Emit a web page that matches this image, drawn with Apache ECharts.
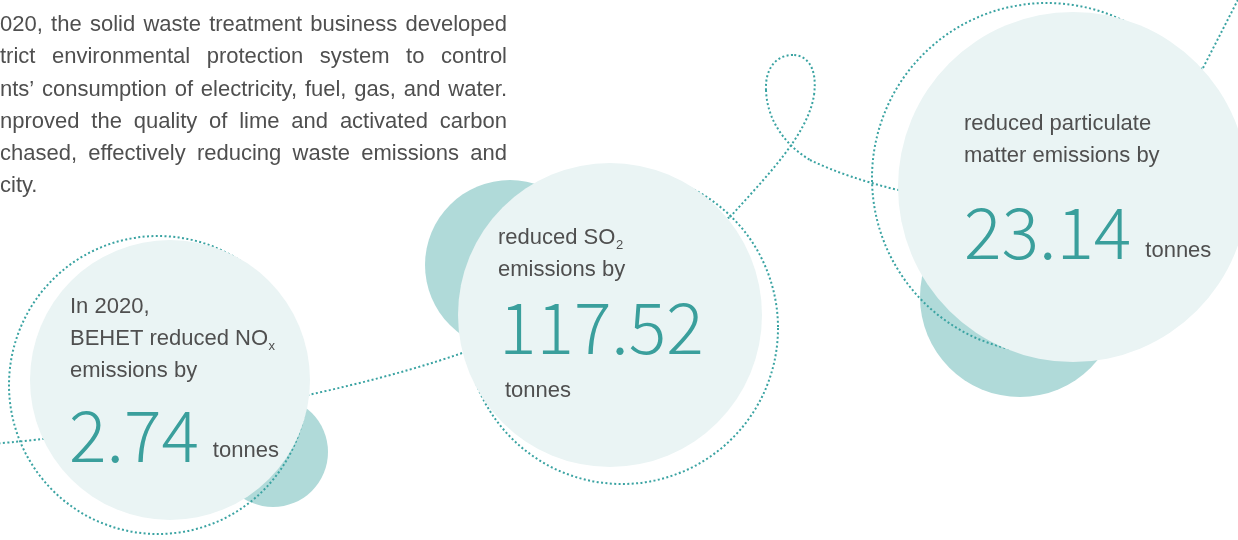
<!DOCTYPE html>
<html><head><meta charset="utf-8">
<script src="https://cdn.jsdelivr.net/npm/echarts@6/dist/echarts.min.js"></script>
<style>html,body{margin:0;padding:0;background:#fff}#c{width:1238px;height:540px}</style>
</head><body><div id="c"></div>
<script>
// ---------- data ----------
const paragraphLines = [
  '020, the solid waste treatment business developed',
  'trict environmental protection system to control',
  'nts\u2019 consumption of electricity, fuel, gas, and water.',
  'nproved the quality of lime and activated carbon',
  'chased, effectively reducing waste emissions and',
  'city.'
];
const pollutants = ['NOx', 'SO2', 'particulate matter'];
const labelLines = [
  ['In 2020,', 'BEHET reduced NO{x}', 'emissions by'],
  ['reduced SO{2}', 'emissions by'],
  ['reduced particulate', 'matter emissions by']
];
const values = [2.74, 117.52, 23.14];
const units = ['tonnes', 'tonnes', 'tonnes'];

// ---------- styles / layout ----------
const TEXT = '#4f4f4f', TEAL = '#3a9f9c', LIGHT = '#eaf4f4', DARK = '#b0dad9', DOT = '#3aa3a2';
const SANS = '"Liberation Sans", Arial, sans-serif';
const NUMFONT = '"Noto Sans CJK SC", "Noto Sans", sans-serif';
const NUMW = 300, NUMSIZE = 70, LABSIZE = 22, SUBSIZE = 13;
const SANS_MID = 0.29, NUM_MID = 0.41;
const DASH = [2, 2.4];

const layout = [
  { light: [170, 380, 140], dark: [273, 452, 55], ring: [158, 385, 149],
    x: 70, base: [313, 345, 377], numX: 69, numBase: 464, unitInline: true, unitBase: 457 },
  { light: [610, 315, 152], dark: [510, 265, 85], ring: [622, 328, 156],
    x: 498, base: [244, 276], numX: 499, numBase: 356, unitInline: false, unitX: 505, unitBase: 397 },
  { light: [1073, 187, 175], dark: [1020, 297, 100], ring: [1047, 178, 175],
    x: 964, base: [130, 162], numX: 964, numBase: 261, unitInline: true, unitBase: 257 }
];
// decorative connector: start point then segments (cubic [c1x,c1y,c2x,c2y,x,y] or line [x,y])
const pathStart = [-10, 444];
const pathSegs = [
  [100, 436, 330, 400, 465, 352],
  [730, 217],
  [765, 178, 808, 135, 814, 95],
  [818, 65, 805, 55, 793, 55],
  [775, 55, 765, 70, 766, 90],
  [767, 120, 785, 145, 810, 160],
  [835, 172, 865, 182, 898, 190],
  [1203, 68],
  [1245, -14]
];

// ---------- helpers ----------
const ctx = document.createElement('canvas').getContext('2d');
function measure(t, size, fam, weight) {
  ctx.font = (weight || 'normal') + ' ' + size + 'px ' + fam;
  return ctx.measureText(t).width;
}
const els = [];
function addText(str, x, baseline, size, color, fam, weight, mid) {
  els.push({
    type: 'text', x: x, y: baseline - (mid == null ? SANS_MID : mid) * size, z: 20,
    style: { text: str, fill: color, fontSize: size, fontFamily: fam, fontWeight: weight || 'normal',
             align: 'left', verticalAlign: 'middle' }
  });
}
const dotStyle = () => ({ fill: null, stroke: DOT, lineWidth: 2, lineDash: DASH });

// paragraph (justified, clipped on the left)
const PX0 = 0, PX1 = 507;
paragraphLines.forEach((line, i) => {
  const base = 31.5 + i * 32.2;
  const words = line.split(' ');
  const ws = words.map(wd => measure(wd, LABSIZE, SANS));
  const total = ws.reduce((a, b) => a + b, 0);
  const last = i === paragraphLines.length - 1;
  const gap = (!last && words.length > 1) ? (PX1 - PX0 - total) / (words.length - 1) : measure(' ', LABSIZE, SANS);
  let x = PX0;
  words.forEach((wd, k) => { addText(wd, x, base, LABSIZE, TEXT, SANS); x += ws[k] + gap; });
});

// decorative dotted connector
let p = pathStart;
pathSegs.forEach(s => {
  if (s.length === 6) {
    els.push({ type: 'bezierCurve', z: 5, shape: { x1: p[0], y1: p[1], cpx1: s[0], cpy1: s[1], cpx2: s[2], cpy2: s[3], x2: s[4], y2: s[5] }, style: dotStyle() });
    p = [s[4], s[5]];
  } else {
    els.push({ type: 'line', z: 5, shape: { x1: p[0], y1: p[1], x2: s[0], y2: s[1] }, style: dotStyle() });
    p = [s[0], s[1]];
  }
});

layout.forEach((L, i) => {
  els.push({ type: 'circle', z: 3, shape: { cx: L.dark[0], cy: L.dark[1], r: L.dark[2] }, style: { fill: DARK } });
  els.push({ type: 'circle', z: 5, shape: { cx: L.ring[0], cy: L.ring[1], r: L.ring[2] }, style: dotStyle() });
  els.push({ type: 'circle', z: 8, shape: { cx: L.light[0], cy: L.light[1], r: L.light[2] }, style: { fill: LIGHT } });

  labelLines[i].forEach((ln, k) => {
    const m = ln.match(/^(.*)\{(.+)\}$/);
    const main = m ? m[1] : ln;
    addText(main, L.x, L.base[k], LABSIZE, TEXT, SANS);
    if (m) {
      const wMain = measure(main, LABSIZE, SANS);
      addText(m[2], L.x + wMain + 0.5, L.base[k] + 5, SUBSIZE, TEXT, SANS);
    }
  });
  const vs = values[i].toFixed(2);
  addText(vs, L.numX, L.numBase, NUMSIZE, TEAL, NUMFONT, NUMW, NUM_MID);
  const numW = measure(vs, NUMSIZE, NUMFONT, NUMW);
  if (L.unitInline) addText(units[i], L.numX + numW + 14, L.unitBase, LABSIZE, TEXT, SANS);
  else addText(units[i], L.unitX, L.unitBase, LABSIZE, TEXT, SANS);
});

const chart = echarts.init(document.getElementById('c'), null, { renderer: 'canvas' });
chart.setOption({ backgroundColor: '#ffffff', animation: false, graphic: { elements: els } });
</script>
</body></html>
